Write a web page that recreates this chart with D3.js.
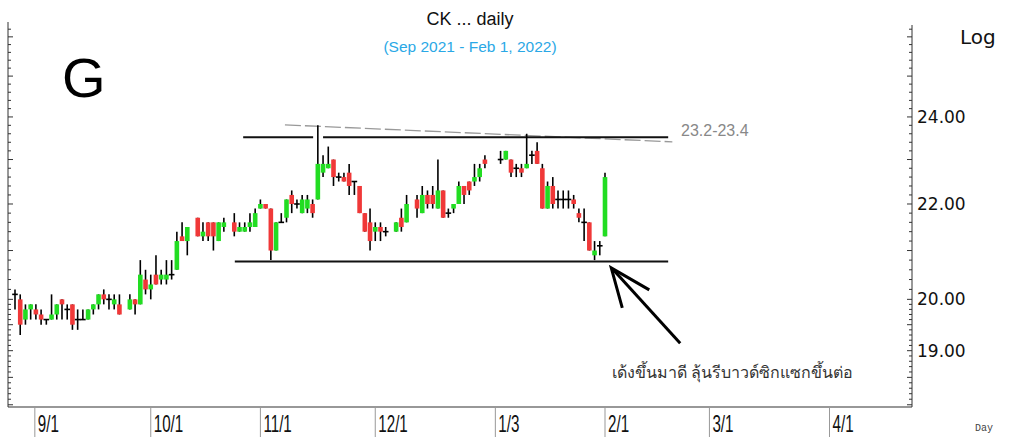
<!DOCTYPE html>
<html>
<head>
<meta charset="utf-8">
<script src="https://cdn.jsdelivr.net/npm/d3@7"></script>
<style>
  body { margin: 0; background: #fff; }
  svg { display: block; }
</style>
</head>
<body>
<div id="chart"></div>
<script>
// trading-day slot of each candle (gaps = missing days)
var slot = [0,1,2,3,4,5,6,7,8,9,10,11,12,13,14,15,16,17,18,19,20,22,23,24,25,26,27,28,29,30,31,32,33,35,36,37,38,39,40,42,43,44,45,46,47,48,49,50,51,52,53,54,55,56,57,58,59,60,61,62,63,64,65,66,67,68,69,70,71,73,74,75,77,78,79,80,81,82,83,84,85,86,87,88,89,90,93,94,95,96,97,98,99,100,101,102,103,104,105,106,107,108,109,110,111,112,113];
var open  = [20.1,20.0,19.6,19.8,19.8,19.7,19.6,19.6,19.7,20.0,19.8,19.9,19.6,19.6,19.6,19.8,19.9,20.1,20.0,19.9,19.9,19.8,20.0,19.9,20.4,20.2,20.5,20.4,20.4,20.5,20.6,21.3,21.2,21.7,21.3,21.6,21.6,21.2,21.5,21.6,21.4,21.4,21.5,21.5,21.9,22.0,21.9,21.0,21.6,21.7,22.2,22.0,21.8,21.9,22.0,22.1,22.7,22.8,23.0,22.6,22.6,22.7,22.5,22.4,21.8,21.6,21.4,21.5,21.4,21.4,21.7,21.6,22.1,21.8,22.2,22.2,21.9,22.3,21.8,21.9,22.0,22.4,22.5,22.5,22.6,23.0,23.0,23.0,23.0,22.8,22.8,22.8,23.1,23.2,22.8,21.9,22.4,22.1,22.1,22.1,22.1,21.8,21.6,21.6,20.9,21.1,21.3];
var high  = [20.2,20.1,19.9,19.9,19.9,19.8,19.6,20.1,19.9,20.0,19.9,19.9,19.8,19.8,19.8,19.9,20.1,20.2,20.1,20.1,20.1,20.1,20.0,20.8,20.6,20.5,20.9,20.6,20.8,20.8,21.4,21.6,21.5,21.7,21.6,21.6,21.6,21.6,21.7,21.8,21.6,21.6,21.8,21.9,22.1,22.0,21.9,21.6,21.8,22.1,22.3,22.1,22.2,22.2,22.1,23.8,23.1,23.3,23.0,22.7,22.7,22.9,22.5,22.4,21.8,21.9,21.6,21.6,21.5,21.6,21.9,22.2,22.2,22.4,22.3,22.4,23.0,22.3,21.9,22.0,22.5,22.4,22.5,22.9,22.9,23.1,23.2,23.2,23.0,22.9,22.9,23.6,23.2,23.4,22.9,22.5,22.6,22.3,22.3,22.3,22.2,21.9,21.9,21.6,21.2,21.2,22.7];
var low   = [19.8,19.3,19.5,19.6,19.6,19.5,19.5,19.6,19.6,19.6,19.6,19.4,19.4,19.6,19.6,19.7,19.8,19.9,19.8,19.8,19.7,19.8,19.7,19.9,20.1,20.0,20.3,20.3,20.3,20.4,20.6,21.2,20.9,21.3,21.2,21.2,21.0,21.2,21.4,21.3,21.4,21.4,21.4,21.5,21.9,21.9,20.8,21.0,21.6,21.6,21.8,21.9,21.8,21.8,21.7,22.1,22.6,22.8,22.4,22.5,22.5,22.2,22.2,21.8,21.4,21.0,21.2,21.2,21.3,21.4,21.4,21.6,21.7,21.8,21.9,21.9,21.9,21.7,21.7,21.8,22.0,22.0,22.2,22.4,22.5,22.8,22.9,23.0,22.6,22.6,22.6,22.8,22.9,22.9,21.9,21.9,21.9,21.9,21.9,21.9,21.9,21.6,21.2,21.0,20.8,20.9,21.3];
var close = [20.1,19.5,19.8,19.9,19.7,19.6,19.6,19.7,19.9,19.9,19.8,19.5,19.6,19.6,19.8,19.9,20.1,20.0,20.0,20.0,19.7,20.0,19.9,20.5,20.2,20.3,20.3,20.5,20.5,20.5,21.2,21.2,21.5,21.3,21.4,21.3,21.3,21.6,21.6,21.4,21.5,21.5,21.6,21.8,22.0,21.9,21.0,21.6,21.6,22.1,22.0,22.0,22.1,22.1,21.8,22.9,22.9,22.9,22.6,22.6,22.5,22.4,22.5,21.8,21.4,21.2,21.5,21.4,21.4,21.6,21.5,22.0,21.9,22.2,22.0,22.0,22.3,21.7,21.8,22.0,22.4,22.2,22.3,22.6,22.8,22.9,23.0,23.2,22.7,22.8,22.7,22.9,23.1,22.9,21.9,22.4,22.0,22.1,22.1,22.1,22.0,21.7,21.6,21.0,21.0,21.1,22.6];

// month separators (slot) and labels
var monthSlot  = [3.8, 26, 47, 69, 92, 113, 133, 156];
var monthLabel = ["9/1","10/1","11/1","12/1","1/3","2/1","3/1","4/1"];

// price labels on the right
var priceLabels = [24, 22, 20, 19];

// drawn lines: support, resistance (two pieces), dashed trend
var support    = {from: 42.1, to: 125.1, price: 20.77};
var resistance = [{from: 43.7, to: 57.1, price: 23.52}, {from: 59, to: 125.1, price: 23.52}];
var trend      = [{s: 51.7, p: 23.81}, {s: 125.9, p: 23.41}];
var arrowTip   = {s: 114.2, p: 20.64};
var arrowTail  = {s: 127.4, p: 19.14};

var w = 1029, h = 437;
var plotLeft = 8, plotRight = 912, plotTop = 25, plotBottom = 407;

var xScale = d3.scaleLinear().domain([0, 113]).range([15, 605]);
var yScale = d3.scaleLog().domain([17.96, 26.31]).range([plotBottom, plotTop]);

var svg = d3.select("#chart").append("svg")
  .attr("width", w).attr("height", h);

var green = "#22dd22", red = "#f03838";

// axes frame
svg.append("line").attr("x1", plotLeft).attr("x2", plotLeft).attr("y1", 22).attr("y2", plotBottom)
  .attr("stroke", "#333").attr("stroke-width", 1);
svg.append("line").attr("x1", plotRight).attr("x2", plotRight).attr("y1", plotTop).attr("y2", plotBottom)
  .attr("stroke", "#333").attr("stroke-width", 1);
svg.append("line").attr("x1", plotLeft).attr("x2", plotRight).attr("y1", plotBottom).attr("y2", plotBottom)
  .attr("stroke", "#333").attr("stroke-width", 1.2);

// minor ticks: 0.1 below 20, 0.2 above
var ticks = d3.range(18, 20, 0.1).concat(d3.range(20, 26.3, 0.2)).map(function(v){ return Math.round(v*10)/10; });
function isMajor(v){ return Math.abs(v*2 - Math.round(v*2)) < 1e-6 && (v < 20 ? true : Math.abs(v - Math.round(v)) < 1e-6); }

svg.selectAll(".ltick").data(ticks).enter().append("line")
  .attr("x1", plotLeft).attr("x2", function(d){ return isMajor(d) ? plotLeft + 5 : plotLeft + 3; })
  .attr("y1", function(d){ return yScale(d); }).attr("y2", function(d){ return yScale(d); })
  .attr("stroke", "#333");
svg.selectAll(".rtick").data(ticks).enter().append("line")
  .attr("x1", plotRight).attr("x2", function(d){ return isMajor(d) ? plotRight - 5 : plotRight - 3; })
  .attr("y1", function(d){ return yScale(d); }).attr("y2", function(d){ return yScale(d); })
  .attr("stroke", "#333");

svg.selectAll(".plabel").data(priceLabels).enter().append("text")
  .attr("x", 917).attr("y", function(d){ return yScale(d) + 6; })
  .attr("font-family", "DejaVu Sans").attr("font-size", 17).attr("fill", "#111")
  .text(function(d){ return d.toFixed(2); });

svg.append("text").attr("x", 960).attr("y", 44)
  .attr("font-family", "DejaVu Sans").attr("font-size", 20).attr("fill", "#111").text("Log");

// month separators and labels
svg.selectAll(".msep").data(monthSlot).enter().append("line")
  .attr("x1", function(d){ return xScale(d); }).attr("x2", function(d){ return xScale(d); })
  .attr("y1", plotBottom).attr("y2", h)
  .attr("stroke", "#999").attr("stroke-width", 1);
svg.selectAll(".mlabel").data(monthSlot).enter().append("text")
  .attr("transform", function(d){ return "translate(" + (xScale(d) + 3) + ",432) scale(0.66,1)"; })
  .attr("font-family", "Liberation Sans Narrow, Arial Narrow, sans-serif")
  .attr("font-size", 23).attr("fill", "#111")
  .text(function(d, i){ return monthLabel[i]; });

svg.append("text").attr("x", 975).attr("y", 431)
  .attr("font-family", "Liberation Mono, monospace").attr("font-size", 10).attr("fill", "#444").text("Day");

// titles
svg.append("text").attr("x", 470).attr("y", 25).attr("text-anchor", "middle")
  .attr("font-family", "Liberation Sans, Arial, sans-serif").attr("font-size", 18).attr("fill", "#111")
  .text("CK ... daily");
svg.append("text").attr("x", 470).attr("y", 52).attr("text-anchor", "middle")
  .attr("font-family", "Liberation Sans, Arial, sans-serif").attr("font-size", 15.5).attr("fill", "#2aa8e6")
  .text("(Sep 2021 - Feb 1, 2022)");
svg.append("text").attr("x", 62).attr("y", 97)
  .attr("font-family", "Liberation Sans, Arial, sans-serif").attr("font-size", 56).attr("fill", "#000")
  .text("G");

// dashed trend line
svg.append("line")
  .attr("x1", xScale(trend[0].s)).attr("y1", yScale(trend[0].p))
  .attr("x2", xScale(trend[1].s)).attr("y2", yScale(trend[1].p))
  .attr("stroke", "#999").attr("stroke-width", 1.3).attr("stroke-dasharray", "16,4");

// support & resistance
svg.append("line")
  .attr("x1", xScale(support.from)).attr("x2", xScale(support.to))
  .attr("y1", yScale(support.price)).attr("y2", yScale(support.price))
  .attr("stroke", "#111").attr("stroke-width", 2);
svg.selectAll(".res").data(resistance).enter().append("line")
  .attr("x1", function(d){ return xScale(d.from); }).attr("x2", function(d){ return xScale(d.to); })
  .attr("y1", function(d){ return yScale(d.price); }).attr("y2", function(d){ return yScale(d.price); })
  .attr("stroke", "#111").attr("stroke-width", 2);

svg.append("text").attr("x", 681).attr("y", 136)
  .attr("font-family", "Liberation Sans, Arial, sans-serif").attr("font-size", 16).attr("fill", "#888")
  .text("23.2-23.4");

// candles
var candles = slot.map(function(s, i){
  return {s: s, o: open[i], h: high[i], l: low[i], c: close[i]};
});
var bw = 4.6;

svg.selectAll(".wick").data(candles).enter().append("line")
  .attr("x1", function(d){ return xScale(d.s); }).attr("x2", function(d){ return xScale(d.s); })
  .attr("y1", function(d){ return yScale(d.h); }).attr("y2", function(d){ return yScale(d.l); })
  .attr("stroke", "#000").attr("stroke-width", 1.6);

svg.selectAll(".body").data(candles.filter(function(d){ return d.o !== d.c; })).enter().append("rect")
  .attr("x", function(d){ return xScale(d.s) - bw/2; })
  .attr("width", bw)
  .attr("y", function(d){ return yScale(Math.max(d.o, d.c)); })
  .attr("height", function(d){ return Math.abs(yScale(d.o) - yScale(d.c)); })
  .attr("fill", function(d){ return d.c > d.o ? green : red; });

svg.selectAll(".doji").data(candles.filter(function(d){ return d.o === d.c; })).enter().append("line")
  .attr("x1", function(d){ return xScale(d.s) - bw/2 - 0.5; }).attr("x2", function(d){ return xScale(d.s) + bw/2 + 0.5; })
  .attr("y1", function(d){ return yScale(d.o); }).attr("y2", function(d){ return yScale(d.o); })
  .attr("stroke", "#000").attr("stroke-width", 1.6);

// arrow
var tx = xScale(arrowTip.s), ty = yScale(arrowTip.p);
var ax = xScale(arrowTail.s), ay = yScale(arrowTail.p);
svg.append("line").attr("x1", ax).attr("y1", ay).attr("x2", tx + 2).attr("y2", ty + 2)
  .attr("stroke", "#000").attr("stroke-width", 3);
svg.append("path")
  .attr("d", "M" + (tx + 38) + "," + (ty + 22) + " L" + tx + "," + ty + " L" + (tx + 11) + "," + (ty + 40))
  .attr("fill", "none").attr("stroke", "#000").attr("stroke-width", 3).attr("stroke-linejoin", "miter");

svg.append("text").attr("x", 612).attr("y", 378)
  .attr("font-family", "sans-serif").attr("font-size", 16).attr("fill", "#333")
  .text("เด้งขึ้นมาดี ลุ้นรีบาวด์ซิกแซกขึ้นต่อ");
</script>
</body>
</html>
